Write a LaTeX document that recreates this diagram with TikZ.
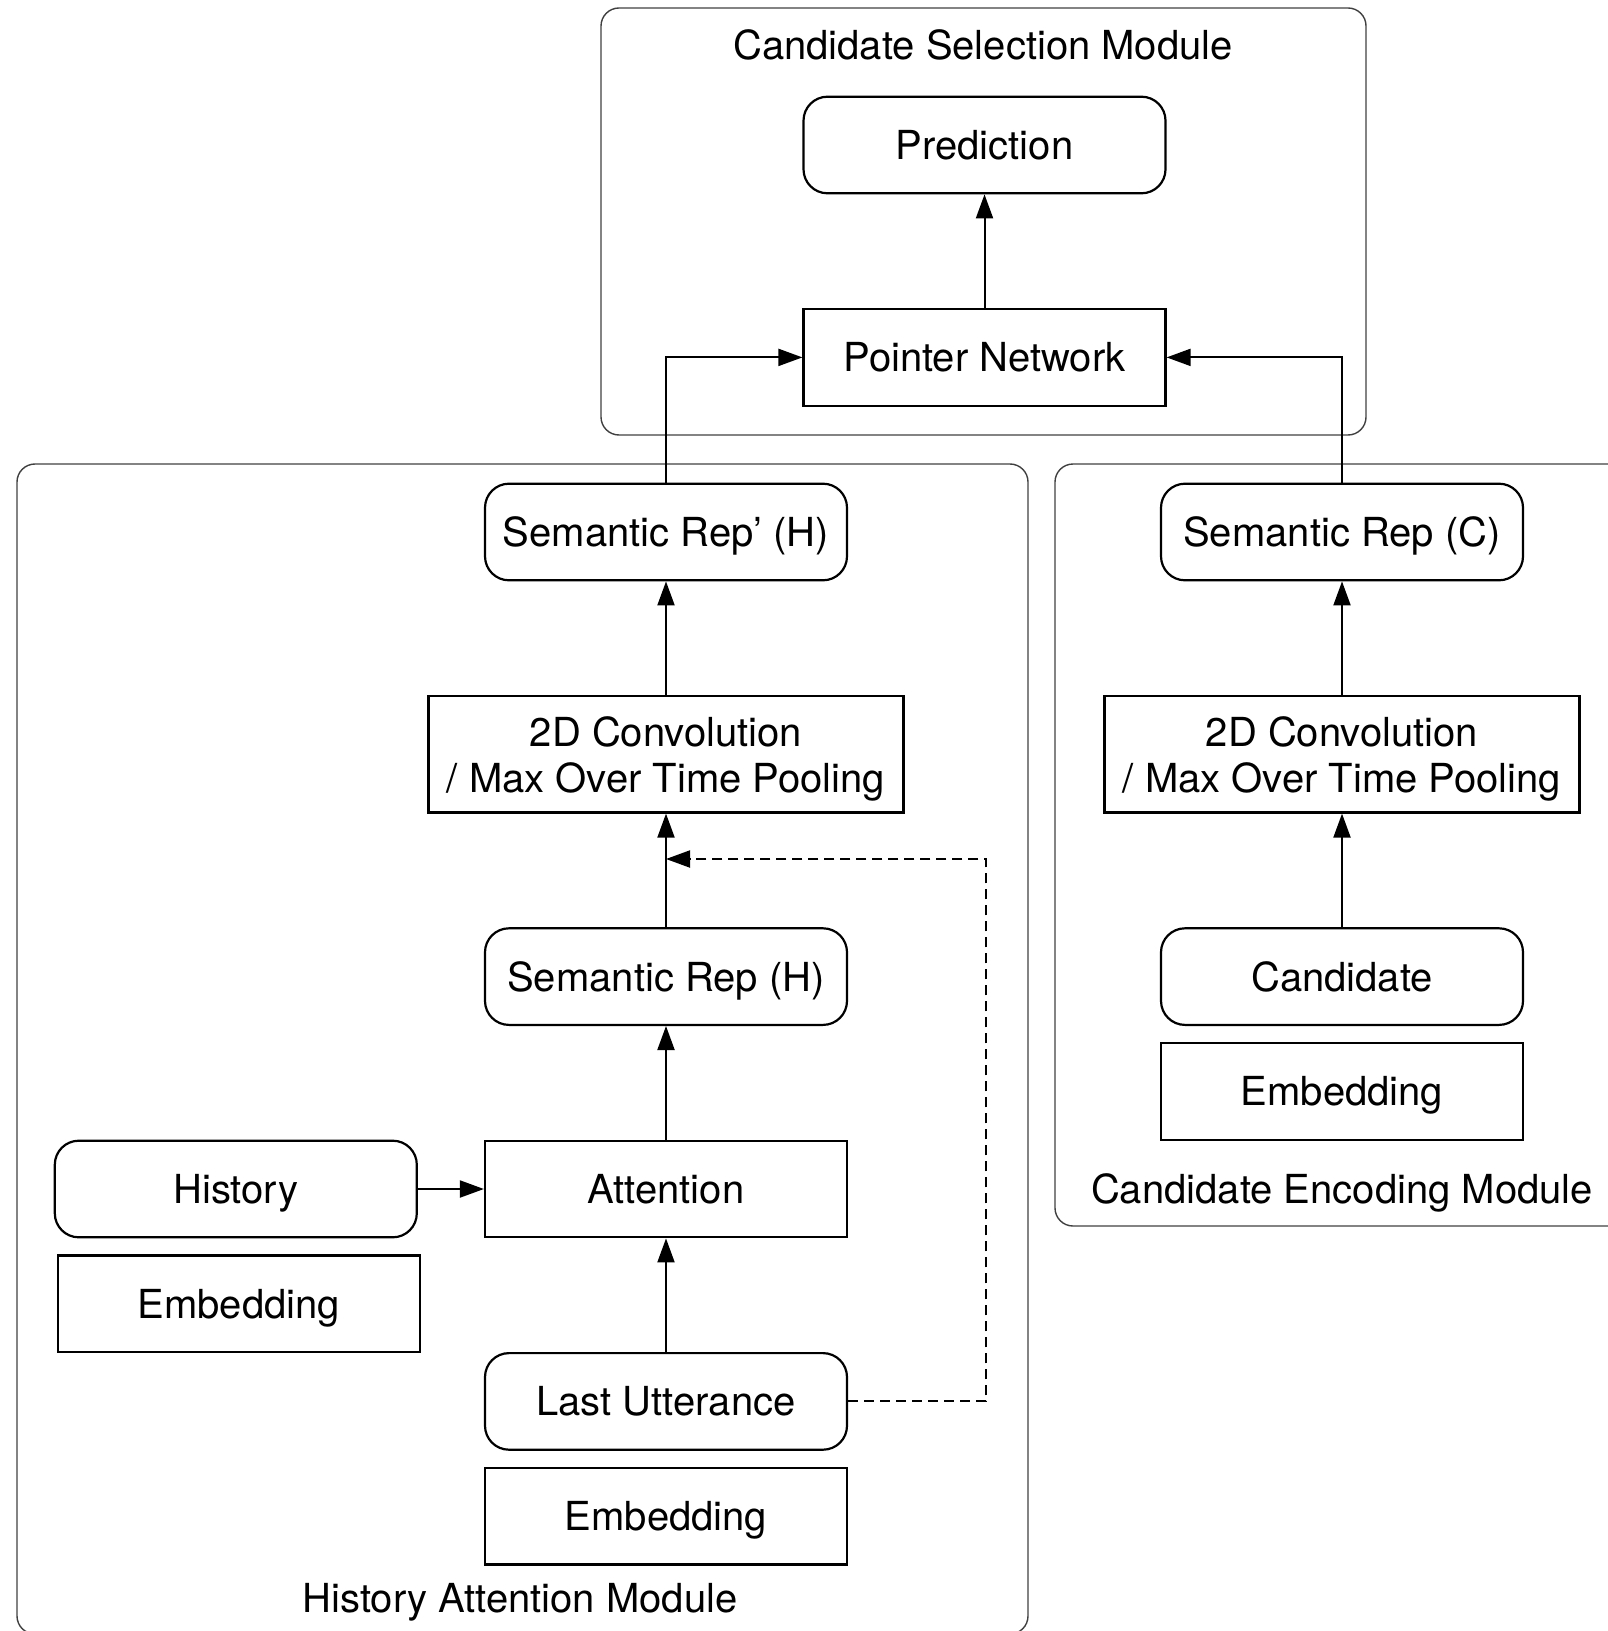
\documentclass[tikz,border=0pt]{standalone}
\usepackage{fontspec}
\setmainfont{TeX Gyre Heros}
\usetikzlibrary{positioning,arrows.meta}
\tikzset{node distance=56.8pt,
  soft/.style={draw,rounded corners=12pt,line width=1.1pt,minimum width=181pt,minimum height=48.3pt,inner sep=0pt,text height=15pt,text depth=0.6pt},
  block/.style={draw,rectangle,line width=1.1pt,minimum width=181pt,minimum height=48.3pt,inner sep=0pt,text height=15pt,text depth=0.6pt},
  wide/.style={draw,rectangle,line width=1.1pt,minimum width=237.5pt,minimum height=58.2pt,inner sep=0pt,align=center},
  frame/.style={draw=black!75,line width=0.7pt,rounded corners=9pt},
  title/.style={inner sep=0pt},
  link/.style={line width=1pt,-{Triangle[length=12pt,width=8.5pt]}}}

\begin{document}
\begin{tikzpicture}[x=0.5pt,y=-0.5pt,font=\fontsize{20}{23}\selectfont]
\useasboundingbox (0,0) rectangle (1607,1631);

% module frames
\draw[frame] (601,8) rectangle (1366,435);
\draw[frame] (17,464) rectangle (1028,1634);
\draw[frame] (1055,464) rectangle (1650,1226);
\node[title] (selmod) at (983,45) {Candidate Selection Module};
\node[title] (histmod) at (520,1602) {History Attention Module};
\node[title] (candmod) at (1342,1193) {Candidate Encoding Module};

% selection
\node[soft] (predict) at (984.5,145) {Prediction};
\node[block] (pointer) [below=of predict] {Pointer Network};

% history side
\node[soft] (semHp) at (666,532) {Semantic Rep’ (H)};
\node[wide] (convH) [below=of semHp] {2D Convolution\\\smash{/ Max Over Time Pooling}};
\node[soft] (semH) [below=of convH] {Semantic Rep (H)};
\node[block] (attn) [below=of semH] {Attention};
\node[soft] (lastutt) [below=of attn] {Last Utterance};
\node[block] (embU) [below=8pt of lastutt] {Embedding};
\node[soft] (hist) [left=33pt of attn] {History};
\node[block] (embH) [below=8pt of hist,xshift=1.5pt] {Embedding};

% candidate side
\node[soft] (semC) at (1342,532) {Semantic Rep (C)};
\node[wide] (convC) [below=of semC] {2D Convolution\\\smash{/ Max Over Time Pooling}};
\node[soft] (cand) [below=of convC] {Candidate};
\node[block] (embC) [below=8pt of cand] {Embedding};

\draw[link] (pointer) -- (predict);
\draw[link] (semHp.north) |- (pointer.west);
\draw[link] (semC.north) |- (pointer.east);
\draw[link] (convH) -- (semHp);
\draw[link] (semH) -- (convH);
\draw[link] (attn) -- (semH);
\draw[link] (lastutt) -- (attn);
\draw[link] (hist) -- (attn);
\draw[link] (convC) -- (semC);
\draw[link] (cand) -- (convC);

\coordinate (dashtop) at (986,859);
\draw[link,dash pattern=on 5pt off 3pt] (lastutt.east) -| (dashtop) -- (semH.north |- dashtop);
\end{tikzpicture}
\end{document}
